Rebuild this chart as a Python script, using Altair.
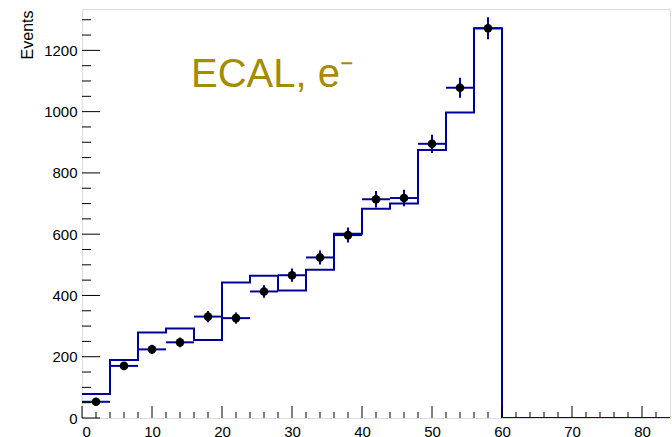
import altair as alt
import pandas as pd

# Bin edges (4-unit bins) and expected counts of the simulated histogram
bin_low = [0, 4, 8, 12, 16, 20, 24, 28, 32, 36, 40, 44, 48, 52, 56, 60, 64, 68, 72, 76, 80]
x_max = 84
mc_counts = [78, 189, 279, 292, 255, 442, 464, 416, 484, 601, 683, 700, 875, 997, 1272,
             0, 0, 0, 0, 0, 0]

# Measured points (bin centres and counts)
data_x = [2, 6, 10, 14, 18, 22, 26, 30, 34, 38, 42, 46, 50, 54, 58]
data_y = [53, 170, 224, 247, 331, 326, 413, 466, 524, 597, 714, 718, 895, 1078, 1272]

# Axis tick values
x_major = [0, 10, 20, 30, 40, 50, 60, 70, 80]
x_minor = [2, 4, 6, 8, 12, 14, 16, 18, 22, 24, 26, 28, 32, 34, 36, 38, 42, 44, 46, 48,
           52, 54, 56, 58, 62, 64, 66, 68, 72, 74, 76, 78, 82]
y_major = [0, 200, 400, 600, 800, 1000, 1200]
y_minor = [50, 100, 150, 250, 300, 350, 450, 500, 550, 650, 700, 750, 850, 900, 950,
           1050, 1100, 1150, 1250, 1300]

W, H = 588, 409
BLUE = "#000099"
FONT = "Liberation Sans"

xs = alt.Scale(domain=[0, x_max], nice=False, zero=False)
ys = alt.Scale(domain=[0, 1335], nice=False, zero=False)

hist_df = pd.DataFrame({"x": bin_low + [x_max], "n": mc_counts + [mc_counts[-1]]})
pts_df = pd.DataFrame({"x": data_x, "n": data_y})

hist = alt.Chart(hist_df).mark_line(
    interpolate="step-after", color=BLUE, strokeWidth=2, clip=True
).encode(
    x=alt.X("x:Q", scale=xs, axis=alt.Axis(
        values=x_major, format="d", ticks=False, domain=False, grid=False,
        labelFontSize=15, labelPadding=6, labelFont=FONT, labelColor="black",
        title=None)),
    y=alt.Y("n:Q", scale=ys, axis=alt.Axis(
        values=y_major, format="d", ticks=False, domain=False, grid=False,
        labelFontSize=15, labelPadding=5, labelFont=FONT, labelColor="black",
        title="Events", titleFont=FONT, titleFontSize=16, titleFontWeight="normal",
        titleColor="black", titleAngle=-90, titleAlign="right",
        titleBaseline="alphabetic", titleX=-50, titleY=1)),
)

base_pts = alt.Chart(pts_df).transform_calculate(
    xlo="datum.x - 2", xhi="datum.x + 2",
    ylo="datum.n - sqrt(datum.n)", yhi="datum.n + sqrt(datum.n)",
)

hbar = base_pts.mark_rule(color=BLUE, strokeWidth=2).encode(
    x=alt.X("xlo:Q", scale=xs), x2="xhi:Q", y=alt.Y("n:Q", scale=ys))
vbar = base_pts.mark_rule(color=BLUE, strokeWidth=2).encode(
    x=alt.X("x:Q", scale=xs), y=alt.Y("ylo:Q", scale=ys), y2="yhi:Q")
dots = base_pts.mark_point(filled=True, shape="circle", color="black", size=75,
                           opacity=1).encode(
    x=alt.X("x:Q", scale=xs), y=alt.Y("n:Q", scale=ys))

# Inward-pointing ticks along the left and bottom frame
def yticks(vals, length):
    return alt.Chart(pd.DataFrame({"v": vals})).mark_rule(
        color="black", strokeWidth=1).encode(
        y=alt.Y("v:Q", scale=ys), x=alt.value(0), x2=alt.value(length))

def xticks(vals, length):
    return alt.Chart(pd.DataFrame({"v": vals})).mark_rule(
        color="black", strokeWidth=1).encode(
        x=alt.X("v:Q", scale=xs), y=alt.value(H), y2=alt.value(H - length))

label = alt.Chart(pd.DataFrame({"t": ["ECAL, e\u207b"]})).mark_text(
    align="left", baseline="alphabetic", font=FONT, fontSize=40, color="#a38c00"
).encode(text="t:N", x=alt.value(109), y=alt.value(78))

chart = alt.layer(
    hist, hbar, vbar, dots,
    yticks(y_major, 18), yticks(y_minor, 9),
    xticks(x_major, 12), xticks(x_minor, 6),
    label,
).properties(
    width=W, height=H, autosize="none",
    padding={"left": 82, "top": 9, "right": 2, "bottom": 19},
).configure_view(stroke="black", strokeWidth=1.2).configure(background="white")

chart.save("out.html", embed_options={"renderer": "svg", "actions": False})
